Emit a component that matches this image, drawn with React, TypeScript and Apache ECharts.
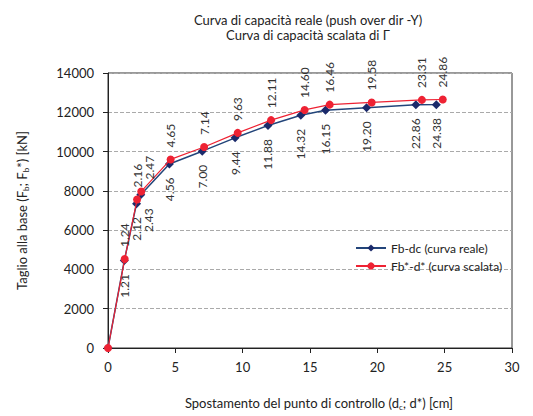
import React, { useEffect, useRef } from "react";
import * as echarts from "echarts";

const realX = [0, 1.21, 2.12, 2.43, 4.56, 7.0, 9.44, 11.88, 14.32, 16.15, 19.2, 22.86, 24.38];
const realY = [0, 4450, 7350, 7800, 9370, 10020, 10700, 11330, 11850, 12100, 12230, 12380, 12390];
const scaledX = [0, 1.24, 2.16, 2.47, 4.65, 7.14, 9.63, 12.11, 14.6, 16.46, 19.58, 23.31, 24.86];
const scaledY = [0, 4530, 7560, 7970, 9600, 10230, 10950, 11600, 12120, 12390, 12500, 12630, 12650];
const seriesNames = ["Fb-dc (curva reale)", "Fb*-d* (curva scalata)"];
const titleLines = ["Curva di capacità reale (push over dir -Y)", "Curva di capacità scalata di Γ"];

const FONT = "Lato";
const TXT = "#222";

export default function App() {
  const ref = useRef<HTMLDivElement>(null);
  useEffect(() => {
    if (!ref.current) return;
    const chart = echarts.init(ref.current, undefined, { renderer: "svg" });
    // the 4th point's label is nudged sideways so it doesn't collide with the 3rd
    const pair = (xs: number[], ys: number[]) =>
      xs.map((x, i) => (i === 3 ? { value: [x, ys[i]], label: { offset: [0, 8] } } : { value: [x, ys[i]] }));
    const fmt = (p: any) => (p.value[0] === 0 ? "" : Number(p.value[0]).toFixed(2));
    chart.setOption({
      animation: false,
      backgroundColor: "#fff",
      textStyle: { fontFamily: FONT },
      title: [
        {
          text: titleLines[0],
          left: 303,
          top: 8,
          textAlign: "center",
          textStyle: { fontFamily: FONT, fontSize: 13, fontWeight: "normal", color: TXT },
        },
        {
          text: titleLines[1],
          left: 303,
          top: 23,
          textAlign: "center",
          textStyle: { fontFamily: FONT, fontSize: 13, fontWeight: "normal", color: TXT },
        },
      ],
      grid: {
        left: 108,
        right: 21,
        top: 73,
        bottom: 64,
        show: true,
        borderColor: "#333",
        borderWidth: 1,
        backgroundColor: "transparent",
      },
      legend: {
        orient: "vertical",
        left: 350,
        top: 237,
        itemWidth: 30,
        itemHeight: 9,
        itemGap: 6,
        textStyle: { fontFamily: FONT, fontSize: 12, color: TXT },
        data: seriesNames,
      },
      xAxis: {
        type: "value",
        min: 0,
        max: 30,
        interval: 5,
        name: "Spostamento del punto di controllo (d{sub|c}; d*) [cm]",
        nameLocation: "middle",
        nameGap: 47,
        nameTextStyle: {
          fontFamily: FONT,
          fontSize: 13,
          color: TXT,
          padding: [0, 0, 0, 18],
          rich: { sub: { fontFamily: FONT, fontSize: 8, color: TXT, padding: [8, 0, 0, 0] } },
        },
        axisLine: { lineStyle: { color: "#222" } },
        axisTick: { show: true, length: 5, lineStyle: { color: "#222" } },
        axisLabel: { fontFamily: FONT, fontSize: 13, color: TXT, margin: 12 },
        splitLine: { show: false },
      },
      yAxis: {
        type: "value",
        min: 0,
        max: 14000,
        interval: 2000,
        name: "Taglio alla base (F{sub|b}; F{sub|b}*) [kN]",
        nameLocation: "middle",
        nameGap: 78,
        nameTextStyle: {
          fontFamily: FONT,
          fontSize: 13,
          color: TXT,
          rich: { sub: { fontFamily: FONT, fontSize: 8, color: TXT, padding: [8, 0, 0, 0] } },
        },
        axisLine: { show: true, lineStyle: { color: "#222" } },
        axisTick: { show: true, length: 5, lineStyle: { color: "#222" } },
        axisLabel: {
          fontFamily: FONT,
          fontSize: 13,
          color: TXT,
          margin: 14,
          formatter: (v: number) => String(v),
        },
        splitLine: { show: true, lineStyle: { color: "#aaa", type: "dashed", width: 1 } },
      },
      series: [
        {
          name: seriesNames[0],
          type: "line",
          data: pair(realX, realY),
          symbol: "diamond",
          symbolSize: 9,
          lineStyle: { color: "#23457a", width: 1.5 },
          itemStyle: { color: "#1b2a6b" },
          label: {
            show: true,
            position: "bottom",
            distance: 9,
            rotate: 90,
            align: "right",
            verticalAlign: "middle",
            fontFamily: FONT,
            fontSize: 12,
            color: "#333",
            formatter: fmt,
          },
          z: 2,
        },
        {
          name: seriesNames[1],
          type: "line",
          data: pair(scaledX, scaledY),
          symbol: "circle",
          symbolSize: 8,
          lineStyle: { color: "#ee2233", width: 1.2 },
          itemStyle: { color: "#ee2233" },
          label: {
            show: true,
            position: "top",
            distance: 8,
            rotate: 90,
            align: "left",
            verticalAlign: "middle",
            fontFamily: FONT,
            fontSize: 12,
            color: "#333",
            formatter: fmt,
          },
          z: 3,
        },
      ],
    });
    return () => chart.dispose();
  }, []);
  return <div ref={ref} style={{ width: 533, height: 416, position: "absolute", left: 0, top: 0 }} />;
}
